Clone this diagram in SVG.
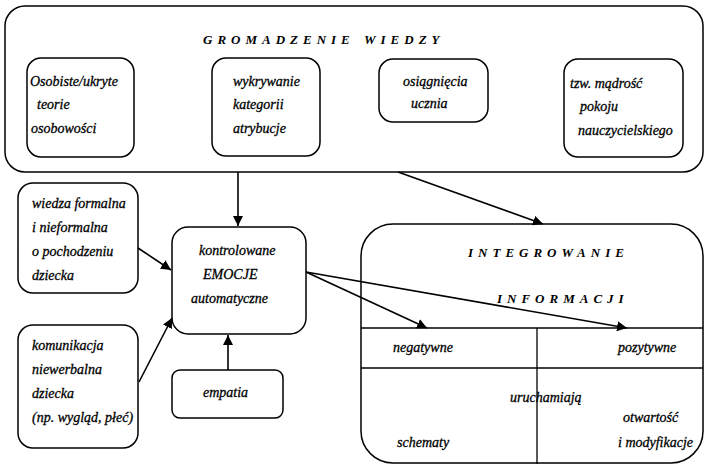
<svg xmlns="http://www.w3.org/2000/svg" width="707" height="464" viewBox="0 0 707 464">
<defs>
<marker id="ah" viewBox="0 0 10 10" refX="10" refY="5" markerWidth="10" markerHeight="10" markerUnits="userSpaceOnUse" orient="auto">
<path d="M0,0 L10,5 L0,10 z" fill="#000"/>
</marker>
<style>
.b{fill:#fff;stroke:#000;stroke-width:1.5}
.t{font-family:"Liberation Serif","DejaVu Serif",serif;font-style:italic;font-size:14px;fill:#000;stroke:#000;stroke-width:0.3}
.h{font-family:"Liberation Serif","DejaVu Serif",serif;font-style:italic;font-weight:bold;font-size:13px;letter-spacing:5px;fill:#000}
.c{fill:none;stroke:#000;stroke-width:1.6}
.l{fill:none;stroke:#000;stroke-width:1.3}
</style>
</defs>
<rect width="707" height="464" fill="#fff"/>
<g id="gromadzenie">
<rect class="b" x="5" y="6" width="698" height="166" rx="20"/>
<text class="h" x="203" y="44">GROMADZENIE</text>
<text class="h" x="364" y="44">WIEDZY</text>
</g>
<g id="osobiste">
<rect class="b" x="27" y="58" width="107" height="99" rx="14"/>
<text class="t" x="30" y="86">Osobiste/ukryte</text>
<text class="t" x="37" y="109">teorie</text>
<text class="t" x="31" y="133">osobowości</text>
</g>
<g id="wykrywanie">
<rect class="b" x="212" y="58" width="108" height="98" rx="14"/>
<text class="t" x="233" y="86">wykrywanie</text>
<text class="t" x="233" y="109">kategorii</text>
<text class="t" x="233" y="133">atrybucje</text>
</g>
<g id="osiagniecia">
<rect class="b" x="379" y="59" width="109" height="63" rx="14"/>
<text class="t" x="403" y="86">osiągnięcia</text>
<text class="t" x="411" y="108">ucznia</text>
</g>
<g id="madrosc">
<rect class="b" x="564" y="59" width="119" height="98" rx="14"/>
<text class="t" x="570" y="88">tzw.  mądrość</text>
<text class="t" x="580" y="111">pokoju</text>
<text class="t" x="578" y="135">nauczycielskiego</text>
</g>
<g id="wiedza">
<rect class="b" x="18" y="183" width="120" height="110" rx="15"/>
<text class="t" x="32" y="208">wiedza formalna</text>
<text class="t" x="32" y="232">i nieformalna</text>
<text class="t" x="32" y="256">o pochodzeniu</text>
<text class="t" x="32" y="280">dziecka</text>
</g>
<g id="komunikacja">
<rect class="b" x="18" y="325" width="120" height="123" rx="15"/>
<text class="t" x="32" y="350">komunikacja</text>
<text class="t" x="32" y="374">niewerbalna</text>
<text class="t" x="32" y="398">dziecka</text>
<text class="t" x="32" y="422">(np. wygląd, płeć)</text>
</g>
<g id="emocje">
<rect class="b" x="172" y="227" width="134" height="107" rx="16"/>
<text class="t" x="199" y="255">kontrolowane</text>
<text class="t" x="203" y="279">EMOCJE</text>
<text class="t" x="191" y="303">automatyczne</text>
</g>
<g id="empatia">
<rect class="b" x="172" y="370" width="111" height="48" rx="8"/>
<text class="t" x="203" y="397">empatia</text>
</g>
<g id="integrowanie">
<rect class="b" x="361" y="224" width="342" height="239" rx="32"/>
<text class="h" x="468" y="257">INTEGROWANIE</text>
<text class="h" x="497" y="303">INFORMACJI</text>
<line class="l" x1="361" y1="328" x2="703" y2="328"/>
<line class="l" x1="361" y1="368" x2="703" y2="368"/>
<line class="l" x1="537" y1="328" x2="537" y2="464"/>
<text class="t" x="393" y="352">negatywne</text>
<text class="t" x="618" y="352">pozytywne</text>
<text class="t" x="510" y="402">uruchamiają</text>
<text class="t" x="623" y="422">otwartość</text>
<text class="t" x="618" y="447">i modyfikacje</text>
<text class="t" x="397" y="447">schematy</text>
</g>
<g id="connectors">
<line class="c" x1="238" y1="172" x2="238" y2="226" marker-end="url(#ah)"/>
<line class="c" x1="398" y1="172" x2="543" y2="224" marker-end="url(#ah)"/>
<line class="c" x1="138" y1="248" x2="171" y2="270" marker-end="url(#ah)"/>
<line class="c" x1="139" y1="382" x2="172" y2="318" marker-end="url(#ah)"/>
<line class="c" x1="228" y1="370" x2="228" y2="335" marker-end="url(#ah)"/>
<line class="c" x1="306" y1="272" x2="427" y2="328" marker-end="url(#ah)"/>
<line class="c" x1="306" y1="272" x2="627" y2="328" marker-end="url(#ah)"/>
</g>
</svg>
